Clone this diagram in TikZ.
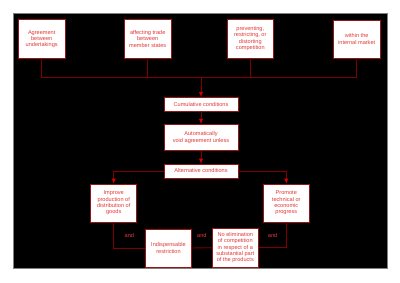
\documentclass[tikz,border=0pt]{standalone}
\usepackage{fontspec}
\setmainfont{Liberation Sans}
\usepackage{tikz}
\definecolor{darkline}{RGB}{128,0,0}
\definecolor{boxline}{RGB}{150,20,20}
\definecolor{textred}{RGB}{228,56,56}
\definecolor{tipred}{RGB}{210,0,0}
\usetikzlibrary{arrows.meta}

\begin{document}
\begin{tikzpicture}[x=1pt, y=-1pt,
	cond/.style={draw=boxline, fill=white, text=textred, align=center, inner sep=1pt, line width=0.7pt},
	link/.style={draw=darkline, line width=0.9pt},
	andlabel/.style={text=textred, inner sep=0pt, above=10pt},
	>={Latex[color=tipred, length=5pt, width=4.5pt]},   %Pfeilspitzen
	font=\fontsize{5.6}{6.3}\selectfont]
	% Rahmen und Hintergrund
	\useasboundingbox (0,0) rectangle (400,283);
	\fill[black, draw=gray] (13,13) rectangle (387,268);
	% obere Reihe
	\node[cond, minimum width=46.7, minimum height=38.3] (agree) at (41.7,39) {Agreement\\between\\undertakings};
	\node[cond, minimum width=46.7, minimum height=38.3] (trade) at (147.7,39) {affecting trade\\between\\member states};
	\node[cond, minimum width=46, minimum height=38.7] (compet) at (250.3,38.7) {preventing,\\restricting, or\\distorting\\competition};
	\node[cond, minimum width=46.7, minimum height=38] (market) at (356.7,39) {within the\\internal market};
	% mittlere Spalte
	\node[cond, minimum width=74, minimum height=13.7] (cumul) at (201,104.2) {Cumulative conditions};
	\node[cond, minimum width=74, minimum height=26.3] (autovoid) at (201,137.5) {Automatically\\void agreement unless};
	\node[cond, minimum width=74, minimum height=14] (altern) at (201,171) {Alternative conditions};
	% untere Reihe
	\node[cond, minimum width=46, minimum height=38] (improve) at (113.7,203) {Improve\\production of\\distribution of\\goods};
	\node[cond, minimum width=46, minimum height=38] (promote) at (286.3,203) {Promote\\technical or\\economic\\progress};
	\node[cond, minimum width=46.4, minimum height=38] (indisp) at (168.5,248) {Indispensable\\restriction};
	\node[cond, minimum width=46.7, minimum height=38.7] (noelim) at (235.3,247.7) {No elimination\\of competition\\in respect of a\\substantial part\\of the products};
	% Verbindungen
	\coordinate (join) at (201,77.3);
	\draw[link] (agree.south) |- (join);
	\draw[link] (market.south) |- (join);
	\draw[link] (trade.south) -- (trade.south |- join);
	\draw[link] (compet.south) -- (compet.south |- join);
	\draw[link,->] (join) -- (cumul);
	\draw[link,->] (cumul) -- (autovoid);
	\draw[link,->] (autovoid) -- (altern);
	\draw[link,->] (altern.west) -| (improve.north);
	\draw[link,->] (altern.east) -| (promote.north);
	\draw[link] (improve.south) |- node[pos=0.75, andlabel] {and} (indisp.west);
	\draw[link] (indisp.east) -- node[andlabel] {and} (noelim.west);
	\draw[link] (promote.south) |- node[pos=0.75, andlabel] {and} (noelim.east);
\end{tikzpicture}
\end{document}
